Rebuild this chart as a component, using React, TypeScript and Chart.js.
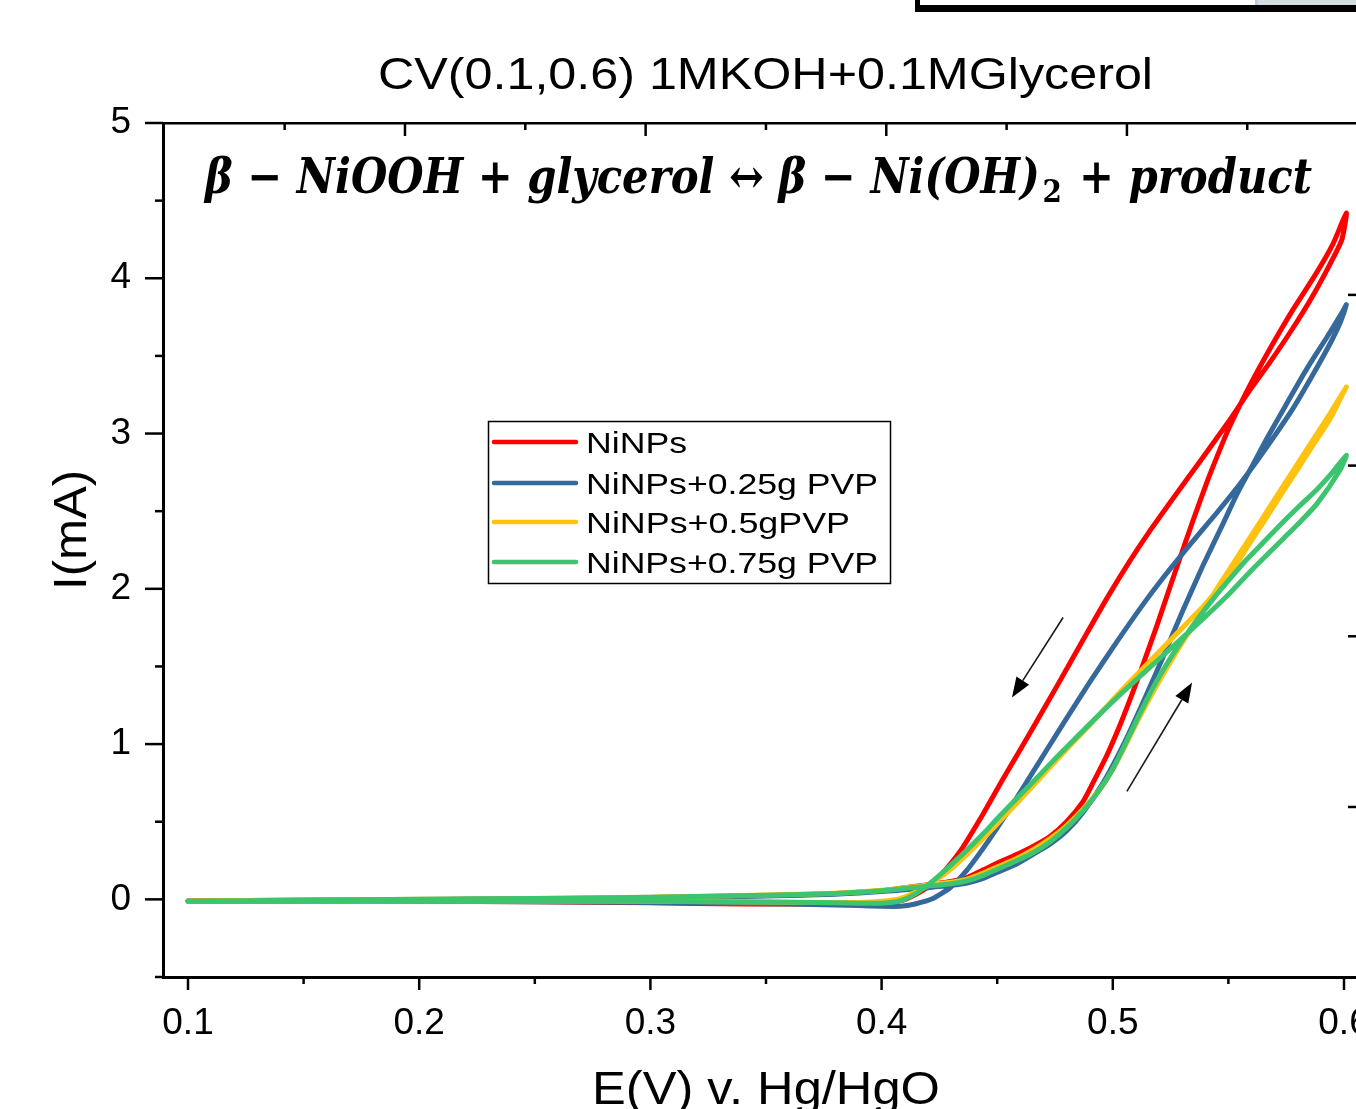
import React, { useEffect, useRef } from 'react';
import { Chart, registerables } from 'chart.js';

Chart.register(...registerables);

type Pt = [number, number];

// ---------------- data (E in V vs Hg/HgO, I in mA) ----------------
const seriesLabels = ['NiNPs', 'NiNPs+0.25g PVP', 'NiNPs+0.5gPVP', 'NiNPs+0.75g PVP'];
const seriesColors = ['#FF0000', '#35689B', '#FFC20E', '#3CC46F'];

// NiNPs
const niNPsForward: Pt[] = [
  [0.1, -0.01], [0.15, -0.006], [0.2, -0.002], [0.25, 0.004], [0.3, 0.012], [0.35, 0.025], [0.38, 0.037],
  [0.4, 0.055], [0.41, 0.075], [0.42, 0.095], [0.43, 0.115], [0.437, 0.14], [0.444, 0.19], [0.451, 0.24],
  [0.4586, 0.29], [0.4655, 0.341], [0.4728, 0.405], [0.48, 0.5], [0.4871, 0.63], [0.4914, 0.75],
  [0.4975, 0.93], [0.5044, 1.17], [0.5118, 1.46], [0.519, 1.76], [0.5247, 2.01], [0.5291, 2.2], [0.5347, 2.44],
  [0.5408, 2.69], [0.5464, 2.9], [0.5507, 3.05], [0.5593, 3.31], [0.5689, 3.57], [0.578, 3.8], [0.5875, 4.02],
  [0.5952, 4.22], [0.601, 4.42],
];
const niNPsReverse: Pt[] = [
  [0.5991, 4.25], [0.5939, 4.09], [0.5862, 3.88], [0.5775, 3.67], [0.568, 3.46], [0.5593, 3.28], [0.5507, 3.09],
  [0.5377, 2.82], [0.5269, 2.6], [0.5161, 2.375], [0.5074, 2.18], [0.4975, 1.94], [0.4871, 1.67], [0.4759, 1.375],
  [0.4655, 1.105], [0.4525, 0.775], [0.4439, 0.55], [0.434, 0.31], [0.4253, 0.15], [0.4209, 0.09], [0.4145, 0.03],
  [0.408, -0.01], [0.4, -0.02], [0.38, -0.028], [0.36, -0.03], [0.34, -0.03], [0.3, -0.022], [0.25, -0.015],
  [0.2, -0.012], [0.15, -0.01], [0.1, -0.01],
];

// NiNPs + 0.25 g PVP
const pvp025Forward: Pt[] = [
  [0.1, -0.01], [0.15, -0.006], [0.2, -0.002], [0.25, 0.003], [0.3, 0.01], [0.35, 0.022], [0.38, 0.033],
  [0.4, 0.05], [0.41, 0.062], [0.42, 0.075], [0.43, 0.09], [0.437, 0.105], [0.444, 0.135], [0.451, 0.18],
  [0.4586, 0.23], [0.4655, 0.29], [0.4728, 0.355], [0.48, 0.44], [0.4871, 0.56], [0.4958, 0.75], [0.5044, 0.99],
  [0.5131, 1.27], [0.5217, 1.56], [0.5303, 1.86], [0.539, 2.15], [0.5477, 2.42], [0.5537, 2.61], [0.5606, 2.8],
  [0.5667, 2.97], [0.5736, 3.15], [0.5797, 3.31], [0.5853, 3.45], [0.5926, 3.62], [0.5996, 3.79], [0.601, 3.83],
];
const pvp025Reverse: Pt[] = [
  [0.5985, 3.72], [0.594, 3.58], [0.5862, 3.37], [0.5779, 3.16], [0.5693, 2.97], [0.5624, 2.825], [0.555, 2.675],
  [0.545, 2.49], [0.5334, 2.285], [0.5217, 2.07], [0.5131, 1.9], [0.5018, 1.66], [0.4901, 1.4], [0.4785, 1.13],
  [0.4642, 0.79], [0.4568, 0.615], [0.45, 0.46], [0.444, 0.33], [0.437, 0.19], [0.4296, 0.075], [0.4222, 0.005],
  [0.4145, -0.03], [0.408, -0.045], [0.4, -0.045], [0.39, -0.04], [0.36, -0.03], [0.3, -0.02], [0.25, -0.015],
  [0.2, -0.012], [0.15, -0.01], [0.1, -0.01],
];

// NiNPs + 0.5 g PVP
const pvp05Forward: Pt[] = [
  [0.1, -0.01], [0.15, -0.005], [0.2, 0.0], [0.25, 0.006], [0.3, 0.014], [0.35, 0.028], [0.38, 0.04],
  [0.4, 0.058], [0.41, 0.075], [0.42, 0.092], [0.43, 0.11], [0.437, 0.13], [0.444, 0.17], [0.451, 0.215],
  [0.4586, 0.265], [0.4655, 0.32], [0.4728, 0.39], [0.48, 0.475], [0.4871, 0.58], [0.4945, 0.71], [0.499, 0.81],
  [0.5044, 0.96], [0.5118, 1.18], [0.5191, 1.38], [0.5278, 1.6], [0.5364, 1.8], [0.5408, 1.9], [0.545, 2.0],
  [0.5507, 2.13], [0.558, 2.3], [0.565, 2.46], [0.5723, 2.63], [0.5797, 2.8], [0.5866, 2.96], [0.594, 3.13],
  [0.601, 3.3],
];
const pvp05Reverse: Pt[] = [
  [0.5996, 3.26], [0.594, 3.095], [0.5866, 2.925], [0.5797, 2.765], [0.5723, 2.595], [0.565, 2.425], [0.558, 2.265],
  [0.5507, 2.095], [0.545, 1.99], [0.539, 1.885], [0.5334, 1.8], [0.5262, 1.69], [0.5191, 1.58], [0.5044, 1.355],
  [0.4901, 1.125], [0.4759, 0.9], [0.4642, 0.71], [0.4512, 0.505], [0.4441, 0.395], [0.4369, 0.29], [0.4296, 0.19],
  [0.4222, 0.11], [0.4153, 0.05], [0.408, 0.005], [0.4, -0.012], [0.39, -0.02], [0.37, -0.02], [0.33, -0.015],
  [0.3, -0.012], [0.25, -0.01], [0.2, -0.01], [0.15, -0.01], [0.1, -0.01],
];

// NiNPs + 0.75 g PVP
const pvp075Forward: Pt[] = [
  [0.1, -0.012], [0.15, -0.005], [0.2, 0.001], [0.25, 0.006], [0.3, 0.013], [0.35, 0.027], [0.38, 0.038],
  [0.4, 0.055], [0.41, 0.07], [0.42, 0.085], [0.43, 0.1], [0.437, 0.12], [0.444, 0.155], [0.451, 0.2],
  [0.4586, 0.25], [0.4655, 0.3], [0.4728, 0.37], [0.48, 0.46], [0.4871, 0.57], [0.4945, 0.71], [0.5, 0.84],
  [0.5044, 0.97], [0.5118, 1.2], [0.5191, 1.41], [0.5278, 1.62], [0.5364, 1.8], [0.5442, 1.95], [0.551, 2.07],
  [0.558, 2.19], [0.5652, 2.3], [0.5723, 2.41], [0.5805, 2.53], [0.5883, 2.64], [0.595, 2.75], [0.601, 2.86],
];
const pvp075Reverse: Pt[] = [
  [0.5983, 2.765], [0.5883, 2.547], [0.581, 2.431], [0.5736, 2.321], [0.5593, 2.109], [0.5494, 1.954],
  [0.5334, 1.729], [0.5191, 1.536], [0.5044, 1.336], [0.4901, 1.13], [0.4759, 0.918], [0.4642, 0.737],
  [0.4512, 0.538], [0.4439, 0.422], [0.437, 0.319], [0.4296, 0.216], [0.4222, 0.119], [0.4153, 0.042],
  [0.408, -0.01], [0.4, -0.025], [0.39, -0.025], [0.37, -0.02], [0.33, -0.015], [0.3, -0.012], [0.25, -0.01],
  [0.2, -0.01], [0.15, -0.012], [0.1, -0.012],
];

const seriesForward: Pt[][] = [niNPsForward, pvp025Forward, pvp05Forward, pvp075Forward];
const seriesReverse: Pt[][] = [niNPsReverse, pvp025Reverse, pvp05Reverse, pvp075Reverse];

// ticks
const xMajorTicks = [0.1, 0.2, 0.3, 0.4, 0.5, 0.6];
const xMinorTicks = [0.15, 0.25, 0.35, 0.45, 0.55];
const yMajorTicks = [0, 1, 2, 3, 4, 5];
const yMinorTicks = [-0.5, 0.5, 1.5, 2.5, 3.5, 4.5];
const topMajorTicks = [1, 2, 3, 4];
const topMinorTicks = [0.5, 1.5, 2.5, 3.5, 4.5];
const rightTicks = [1, 2, 3, 4];

// scan-direction arrows (E, I)
const arrowTails: Pt[] = [[0.4785, 1.815], [0.5061, 0.695]];
const arrowTips: Pt[] = [[0.4564, 1.3], [0.5343, 1.396]];

const titleText = 'CV(0.1,0.6) 1MKOH+0.1MGlycerol';
const xTitleText = 'E(V) v. Hg/HgO';
const yTitleText = 'I(mA)';
const eqPart1 = 'β − NiOOH + glycerol ↔ β − Ni(OH)';
const eqSub = '2';
const eqPart2 = ' + product';

const SANS = '"Liberation Sans", Arial, sans-serif';

// ---------------- drawing helpers ----------------
function fitText(ctx: CanvasRenderingContext2D, text: string, x: number, y: number, width: number, font: string) {
  ctx.save();
  ctx.font = font;
  ctx.textAlign = 'left';
  ctx.textBaseline = 'alphabetic';
  const w = ctx.measureText(text).width;
  ctx.translate(x, y);
  ctx.scale(width / w, 1);
  ctx.fillText(text, 0, 0);
  ctx.restore();
}

const decorPlugin = {
  id: 'decor',
  afterDraw(chart: any) {
    const { ctx, scales, chartArea: a } = chart;
    const x = scales.x, y = scales.y, xt = scales.xTop, yr = scales.yR;
    ctx.save();
    ctx.fillStyle = '#000';
    ctx.strokeStyle = '#000';
    ctx.lineWidth = 2.5;
    const seg = (x1: number, y1: number, x2: number, y2: number) => {
      ctx.beginPath(); ctx.moveTo(x1, y1); ctx.lineTo(x2, y2); ctx.stroke();
    };
    xMajorTicks.forEach(v => { const p = x.getPixelForValue(v); seg(p, a.bottom, p, a.bottom + 13); });
    xMinorTicks.forEach(v => { const p = x.getPixelForValue(v); seg(p, a.bottom, p, a.bottom + 7); });
    yMajorTicks.forEach(v => { const p = y.getPixelForValue(v); seg(a.left - 18, p, a.left, p); });
    yMinorTicks.forEach(v => { const p = y.getPixelForValue(v); seg(a.left - 8, p, a.left, p); });
    topMajorTicks.forEach(v => { const p = xt.getPixelForValue(v); seg(p, a.top, p, a.top + 13); });
    topMinorTicks.forEach(v => { const p = xt.getPixelForValue(v); seg(p, a.top, p, a.top + 7); });
    rightTicks.forEach(v => { const p = yr.getPixelForValue(v); seg(a.right - 9, p, a.right, p); });

    // arrows
    ctx.strokeStyle = '#1a1a1a';
    ctx.fillStyle = '#000';
    ctx.lineWidth = 1.6;
    arrowTails.forEach((t, i) => {
      const tip = arrowTips[i];
      const x1 = x.getPixelForValue(t[0]), y1 = y.getPixelForValue(t[1]);
      const x2 = x.getPixelForValue(tip[0]), y2 = y.getPixelForValue(tip[1]);
      const ang = Math.atan2(y2 - y1, x2 - x1);
      const hl = 20, hw = 7.5;
      const bx = x2 - hl * Math.cos(ang), by = y2 - hl * Math.sin(ang);
      seg(x1, y1, bx, by);
      ctx.beginPath();
      ctx.moveTo(x2, y2);
      ctx.lineTo(bx + hw * Math.sin(ang), by - hw * Math.cos(ang));
      ctx.lineTo(bx - hw * Math.sin(ang), by + hw * Math.cos(ang));
      ctx.closePath();
      ctx.fill();
    });

    // legend
    ctx.lineWidth = 1.5;
    ctx.strokeStyle = '#000';
    ctx.strokeRect(488.5, 421.5, 402, 162);
    const rowY = [442, 483, 522, 562];
    const textW = [101, 292, 264, 292];
    seriesLabels.forEach((lab, i) => {
      ctx.strokeStyle = seriesColors[i];
      ctx.lineWidth = 4.5;
      ctx.lineCap = 'round';
      seg(494, rowY[i], 576, rowY[i]);
      ctx.fillStyle = '#000';
      fitText(ctx, lab, 586, rowY[i] + 11, textW[i], `30px ${SANS}`);
    });

    // title
    ctx.fillStyle = '#000';
    fitText(ctx, titleText, 378, 89, 775, `44px ${SANS}`);
    // x-axis title
    fitText(ctx, xTitleText, 592, 1104, 348, `46px ${SANS}`);
    // y-axis title
    ctx.save();
    ctx.translate(86, 590);
    ctx.rotate(-Math.PI / 2);
    fitText(ctx, yTitleText, 0, 0, 120, `46px ${SANS}`);
    ctx.restore();

    // equation
    const mainFont = 'italic bold 48px "DejaVu Serif"';
    const subFont = 'bold 32px "DejaVu Serif"';
    ctx.font = mainFont;
    const w1 = ctx.measureText(eqPart1).width;
    const w3 = ctx.measureText(eqPart2).width;
    ctx.font = subFont;
    const w2 = ctx.measureText(eqSub).width + 6;
    const s = 1107 / (w1 + w2 + w3);
    ctx.save();
    ctx.translate(205, 193);
    ctx.scale(s, 1);
    ctx.textAlign = 'left';
    ctx.textBaseline = 'alphabetic';
    ctx.font = mainFont; ctx.fillText(eqPart1, 0, 0);
    ctx.font = subFont; ctx.fillText(eqSub, w1 + 3, 9);
    ctx.font = mainFont; ctx.fillText(eqPart2, w1 + w2, 0);
    ctx.restore();

    ctx.restore();
  },
};

export default function App() {
  const ref = useRef<HTMLCanvasElement>(null);

  useEffect(() => {
    const datasets = seriesLabels.map((label, i) => ({
      label,
      data: [...seriesForward[i], ...seriesReverse[i]].map(([e, c]) => ({ x: e, y: c })),
      borderColor: seriesColors[i],
      backgroundColor: seriesColors[i],
      borderWidth: 5,
      pointRadius: 0,
      showLine: true,
      tension: 0.2,
      fill: false,
      borderJoinStyle: 'round',
      borderCapStyle: 'round',
      order: 4 - i,
      xAxisID: 'x',
      yAxisID: 'y',
    }));

    const chart = new Chart(ref.current as HTMLCanvasElement, {
      type: 'scatter',
      data: { datasets },
      options: {
        responsive: false,
        animation: false,
        devicePixelRatio: 1,
        layout: { padding: 0 },
        plugins: { legend: { display: false }, title: { display: false }, tooltip: { enabled: false } },
        scales: {
          x: {
            type: 'linear', position: 'bottom', min: 0.089187, max: 0.605623,
            afterBuildTicks: (sc: any) => { sc.ticks = xMajorTicks.map(v => ({ value: v })); },
            ticks: {
              callback: (v: any) => Number(v).toFixed(1),
              font: { family: SANS, size: 37 },
              color: '#000', padding: 25, maxRotation: 0, autoSkip: false,
            },
            grid: { display: false, drawTicks: false },
            border: { display: true, color: '#000', width: 3 },
            afterFit: (sc: any) => { sc.height = 132; },
          },
          y: {
            type: 'linear', position: 'left', min: -0.5, max: 5,
            afterBuildTicks: (sc: any) => { sc.ticks = yMajorTicks.map(v => ({ value: v })); },
            ticks: {
              callback: (v: any) => String(v),
              font: { family: SANS, size: 37 },
              color: '#000', padding: 32, autoSkip: false,
            },
            grid: { display: false, drawTicks: false },
            border: { display: true, color: '#000', width: 3 },
            afterFit: (sc: any) => { sc.width = 163; },
          },
          xTop: {
            type: 'linear', position: 'top', min: -0.0055, max: 4.956,
            ticks: { display: false },
            grid: { display: false, drawTicks: false },
            border: { display: true, color: '#000', width: 2.5 },
            afterFit: (sc: any) => { sc.height = 123; },
          },
          yR: {
            type: 'linear', position: 'right', min: 0.004, max: 5.007,
            ticks: { display: false },
            grid: { display: false, drawTicks: false },
            border: { display: true, color: '#000', width: 2.5 },
            afterFit: (sc: any) => { sc.width = 63; },
          },
        },
      },
      plugins: [decorPlugin],
    } as any);

    return () => chart.destroy();
  }, []);

  return (
    <div style={{ position: 'fixed', left: 0, top: 0, width: 1356, height: 1109, overflow: 'hidden', background: '#fff' }}>
      <canvas ref={ref} width={1420} height={1109} style={{ display: 'block', width: 1420, height: 1109 }} />
      <div style={{ position: 'absolute', left: 915, top: 0, width: 441, height: 12, boxSizing: 'border-box', borderLeft: '5px solid #000', borderBottom: '7px solid #000', background: '#fff' }} />
      <div style={{ position: 'absolute', left: 1255, top: 0, width: 3, height: 5, background: '#c8c8c8' }} />
      <div style={{ position: 'absolute', left: 1258, top: 0, width: 98, height: 5, background: '#d6dce4' }} />
    </div>
  );
}
